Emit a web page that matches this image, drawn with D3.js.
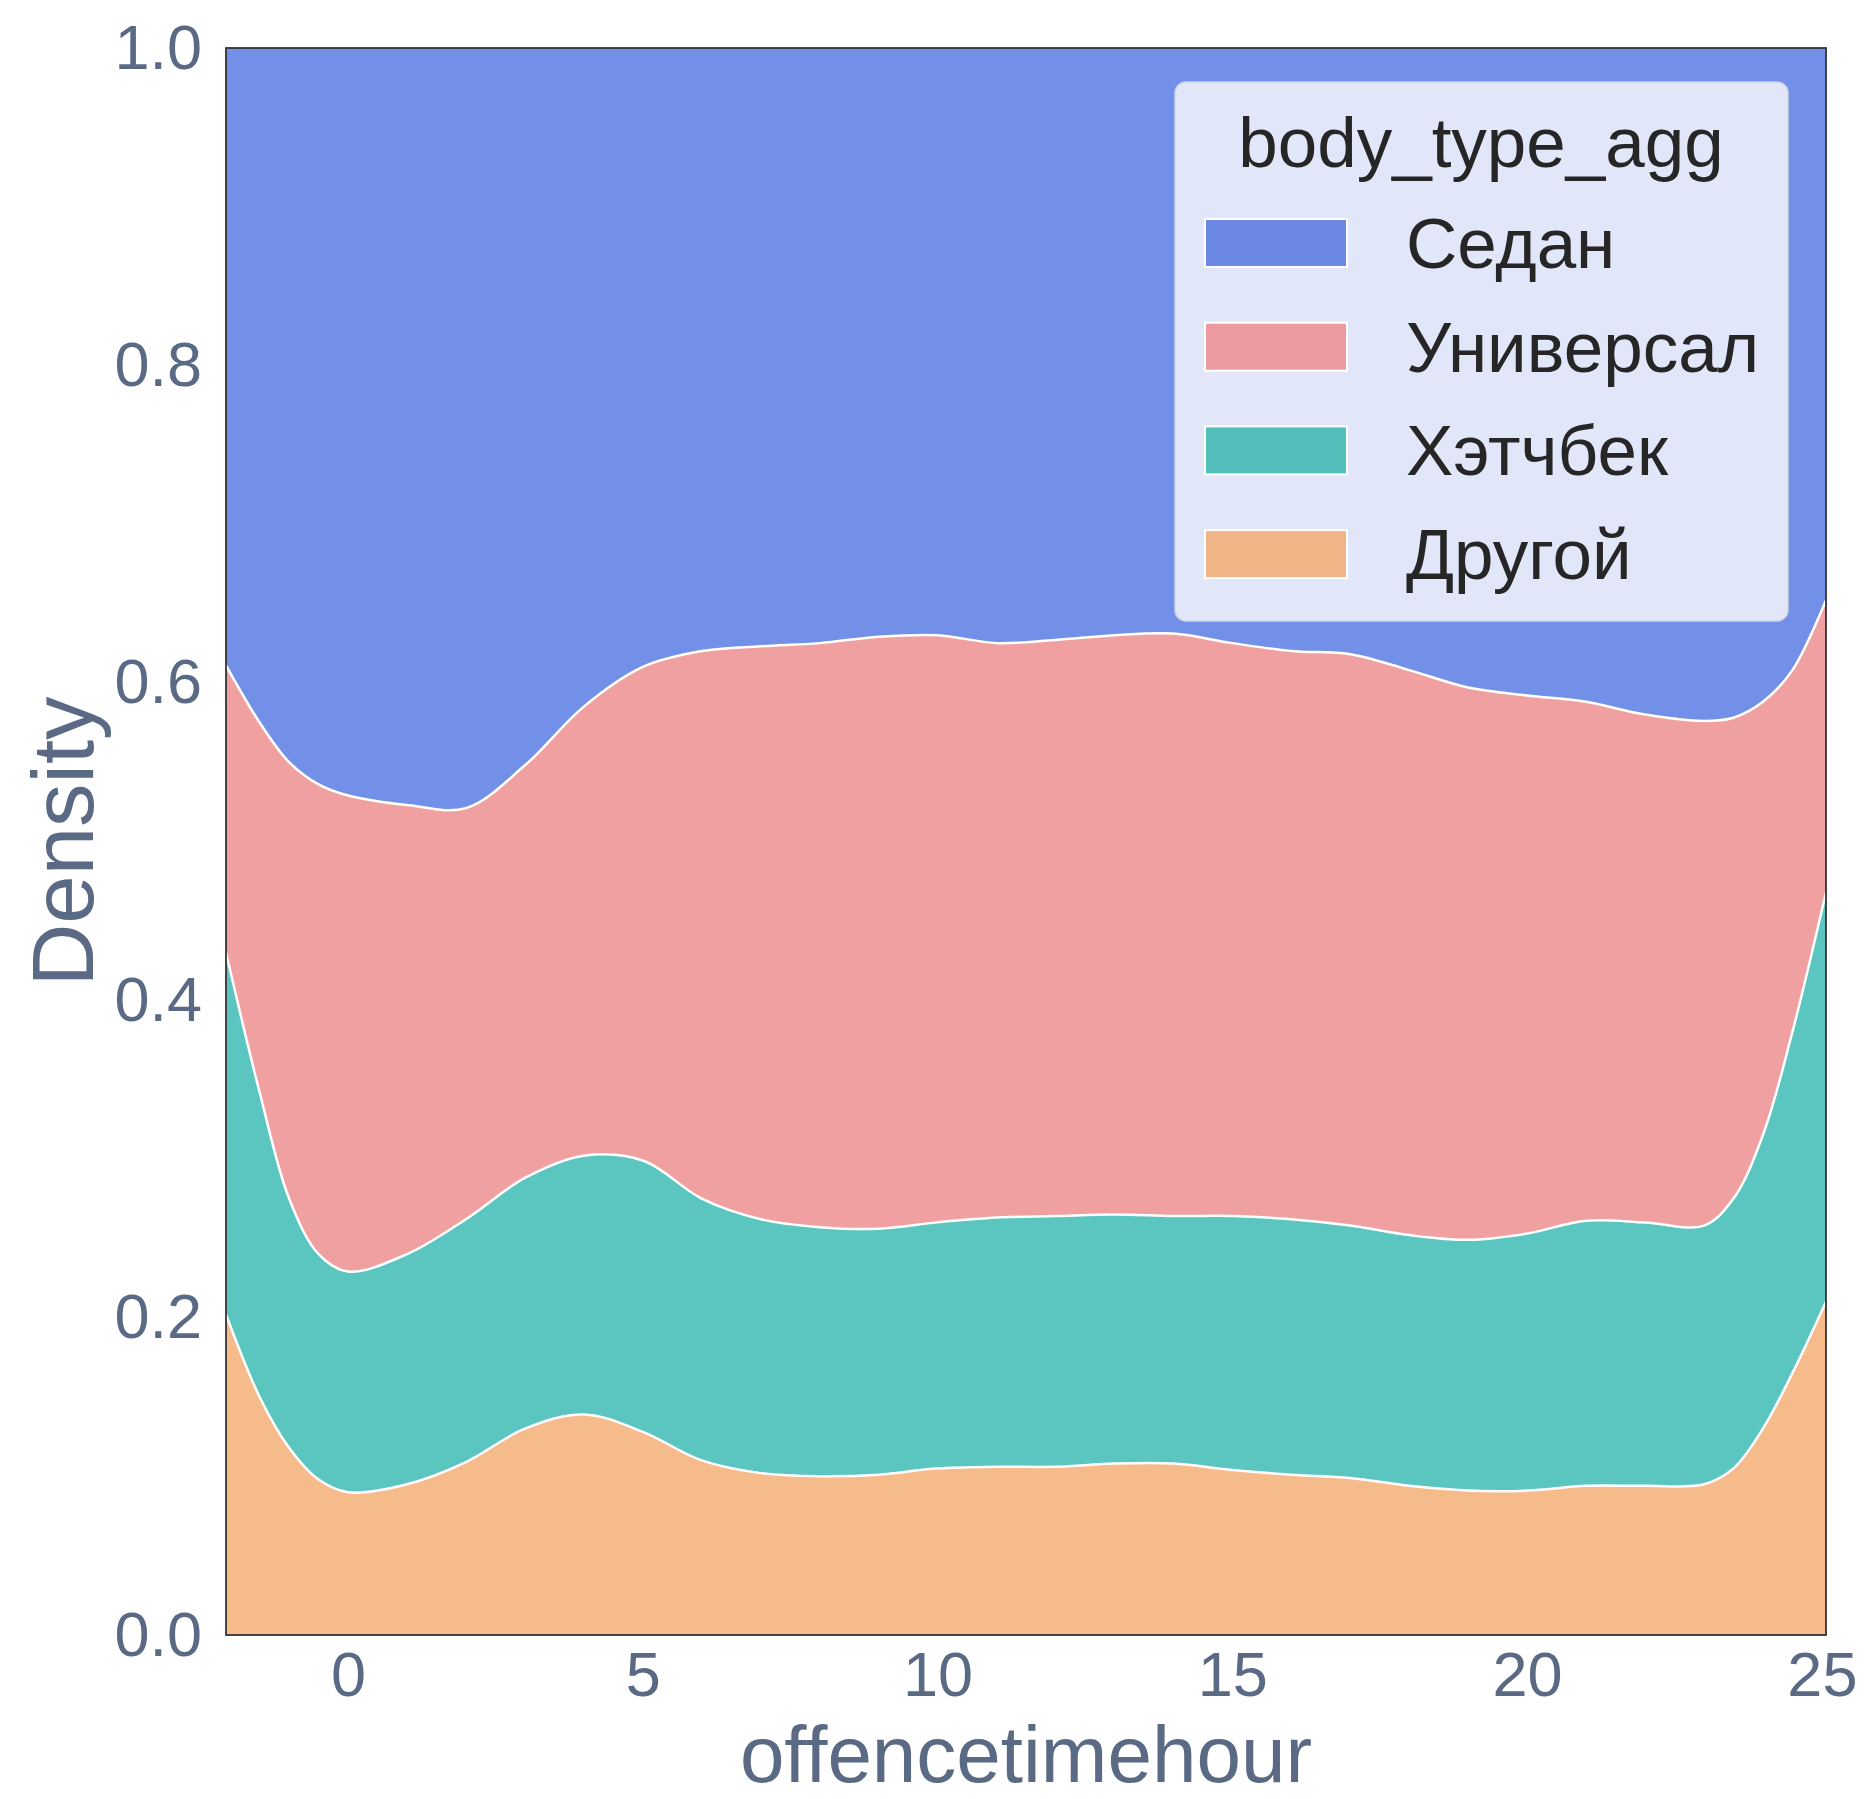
<!DOCTYPE html>
<html>
<head>
<meta charset="utf-8">
<script src="https://cdn.jsdelivr.net/npm/d3@7"></script>
<style>
  body { margin: 0; background: #fff; }
  text { font-family: "Liberation Sans", Arial, sans-serif; }
</style>
</head>
<body>
<svg id="chart"></svg>
<script>
const hours = [-2.07, -1.5, -1, -0.5, 0, 1, 2, 3, 4, 5, 6, 7, 8, 9, 10, 11, 12, 13, 14, 15,
  16, 17, 18, 19, 20, 21, 22, 23, 23.5, 24, 24.5, 25.07];

// share of each body type (they sum to 1 at each hour)
const drugoy = [0.202, 0.150, 0.118, 0.098, 0.090, 0.095, 0.109, 0.130, 0.139, 0.128, 0.110, 0.102,
  0.100, 0.101, 0.105, 0.106, 0.106, 0.108, 0.108, 0.104, 0.101, 0.099, 0.094, 0.091, 0.091, 0.094,
  0.094, 0.095, 0.105, 0.130, 0.165, 0.210];
const hatchback = [0.228, 0.192, 0.157, 0.142, 0.139, 0.145, 0.153, 0.158, 0.163, 0.171, 0.165, 0.160,
  0.157, 0.155, 0.155, 0.157, 0.158, 0.157, 0.156, 0.160, 0.161, 0.159, 0.158, 0.158, 0.162, 0.167,
  0.166, 0.163, 0.170, 0.185, 0.215, 0.258];
const universal = [0.181, 0.233, 0.275, 0.296, 0.300, 0.283, 0.259, 0.260, 0.283, 0.311, 0.345, 0.361,
  0.368, 0.373, 0.370, 0.362, 0.363, 0.365, 0.367, 0.361, 0.358, 0.360, 0.356, 0.348, 0.339, 0.327,
  0.320, 0.318, 0.303, 0.273, 0.228, 0.184];
const sedan = [0.389, 0.425, 0.450, 0.464, 0.471, 0.477, 0.479, 0.452, 0.415, 0.390, 0.380, 0.377,
  0.375, 0.371, 0.370, 0.375, 0.373, 0.370, 0.369, 0.375, 0.380, 0.382, 0.392, 0.403, 0.408, 0.412,
  0.420, 0.424, 0.422, 0.412, 0.392, 0.348];

// legend order (top of the stack first)
const categories = ["Седан", "Универсал", "Хэтчбек", "Другой"];
const fills = {"Седан": "#7290e7", "Универсал": "#f1a0a1", "Хэтчбек": "#5bc5bf", "Другой": "#f5bb8a"};
const patchFills = {"Седан": "#6a88e4", "Универсал": "#eb9b9f", "Хэтчбек": "#52bfba", "Другой": "#efb586"};

const xTicks = [0, 5, 10, 15, 20, 25];
const yTicks = [0, 0.2, 0.4, 0.6, 0.8, 1.0];

const W = 1865, H = 1799;
const plotL = 226, plotR = 1826, plotT = 48, plotB = 1635;
const tickColor = "#5a6a85";

const rows = hours.map((h, i) => ({
  hour: h,
  "Другой": drugoy[i],
  "Хэтчбек": hatchback[i],
  "Универсал": universal[i],
  "Седан": sedan[i]
}));

const svg = d3.select("#chart").attr("width", W).attr("height", H);

const x = d3.scaleLinear().domain([-2.07, 25.07]).range([plotL, plotR]);
const y = d3.scaleLinear().domain([0, 1]).range([plotB, plotT]);

// stack from the bottom up
const stack = d3.stack().keys(categories.slice().reverse());
const layers = stack(rows);

svg.append("defs").append("clipPath").attr("id", "clip")
  .append("rect").attr("x", plotL).attr("y", plotT)
  .attr("width", plotR - plotL).attr("height", plotB - plotT);

const area = d3.area()
  .x(d => x(d.data.hour))
  .y0(d => y(d[0]))
  .y1(d => y(d[1]))
  .curve(d3.curveCatmullRom);

const edge = d3.line()
  .x(d => x(d.data.hour))
  .y(d => y(d[1]))
  .curve(d3.curveCatmullRom);

const g = svg.append("g").attr("clip-path", "url(#clip)");

g.selectAll("path.layer")
  .data(layers)
  .enter()
  .append("path")
  .attr("class", "layer")
  .attr("fill", d => fills[d.key])
  .attr("d", area);

// white edges between the layers
g.selectAll("path.edge")
  .data(layers.filter(d => d.key !== "Седан"))
  .enter()
  .append("path")
  .attr("class", "edge")
  .attr("fill", "none")
  .attr("stroke", "#fff")
  .attr("stroke-width", 2.5)
  .attr("d", edge);

// frame
svg.append("rect")
  .attr("x", plotL).attr("y", plotT)
  .attr("width", plotR - plotL).attr("height", plotB - plotT)
  .attr("fill", "none")
  .attr("stroke", "#333")
  .attr("stroke-width", 1.8);

// axes
const xAxis = svg.append("g")
  .attr("transform", "translate(0," + plotB + ")")
  .call(d3.axisBottom(x).tickValues(xTicks).tickSize(0).tickPadding(16));
xAxis.select(".domain").remove();
xAxis.selectAll("text")
  .style("font-size", "63px")
  .style("font-family", "'Liberation Sans', Arial, sans-serif")
  .attr("fill", tickColor);

const yAxis = svg.append("g")
  .attr("transform", "translate(" + plotL + ",0)")
  .call(d3.axisLeft(y).tickValues(yTicks).tickFormat(d3.format(".1f")).tickSize(0).tickPadding(24));
yAxis.select(".domain").remove();
yAxis.selectAll("text")
  .style("font-size", "63px")
  .style("font-family", "'Liberation Sans', Arial, sans-serif")
  .attr("fill", tickColor);

// axis labels
svg.append("text")
  .attr("x", (plotL + plotR) / 2)
  .attr("y", 1782)
  .attr("text-anchor", "middle")
  .style("font-size", "80px")
  .attr("fill", tickColor)
  .text("offencetimehour");

svg.append("text")
  .attr("transform", "translate(93," + ((plotT + plotB) / 2) + ")rotate(-90)")
  .attr("text-anchor", "middle")
  .style("font-size", "87px")
  .attr("fill", tickColor)
  .text("Density");

// legend
const legend = svg.append("g");
legend.append("rect")
  .attr("x", 1175).attr("y", 82)
  .attr("width", 613).attr("height", 539)
  .attr("rx", 11)
  .attr("fill", "#e1e6f8")
  .attr("stroke", "#cfd4e2")
  .attr("stroke-width", 1.5);

legend.append("text")
  .attr("x", 1481).attr("y", 167)
  .attr("text-anchor", "middle")
  .style("font-size", "71px")
  .attr("fill", "#262626")
  .text("body_type_agg");

const item = legend.selectAll("g.item")
  .data(categories)
  .enter()
  .append("g")
  .attr("class", "item")
  .attr("transform", (d, i) => "translate(0," + (243 + i * 103.7) + ")");

item.append("rect")
  .attr("x", 1205).attr("y", -24)
  .attr("width", 142).attr("height", 48)
  .attr("fill", d => patchFills[d])
  .attr("stroke", "#fff")
  .attr("stroke-width", 2);

item.append("text")
  .attr("x", 1406).attr("y", 25)
  .style("font-size", "71px")
  .attr("fill", "#262626")
  .text(d => d);
</script>
</body>
</html>
